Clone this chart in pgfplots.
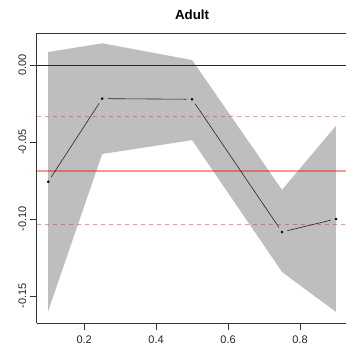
\documentclass[border=0pt]{standalone}
\usepackage{fontspec}
\setmainfont{Liberation Sans}
\usepackage{pgfplots}
\pgfplotsset{compat=1.18}
\begin{document}
\begin{tikzpicture}[x=1pt,y=1pt]
\begin{axis}[
  at={(0,0)}, anchor=south west,
  scale only axis, width=310.8pt, height=290pt,
  xmin=0.068, xmax=0.932, ymin=-0.16758, ymax=0.02098,
  axis x line*=bottom, axis y line*=left,
  axis line style={black!80, line width=0.6pt, -},
  tick align=outside, major tick length=7pt,
  tick style={black!80, line width=0.6pt},
  xtick={0.2,0.4,0.6,0.8}, xticklabels={0.2,0.4,0.6,0.8},
  ytick={-0.15,-0.10,-0.05,0}, yticklabels={-0.15,-0.10,-0.05,0.00},
  ticklabel style={font=\fontsize{11}{13}\selectfont, text=black!85},
  xticklabel style={yshift=-2.5pt},
  yticklabel style={rotate=90, anchor=south},
  clip=false,
  title={\bfseries Adult}, title style={font=\fontsize{13.3}{15}\selectfont\bfseries, yshift=4pt},
]
\addplot[fill={rgb,255:red,190;green,190;blue,190}, draw=none] coordinates {
 (0.1,0.0086) (0.25,0.0143) (0.5,0.0034) (0.75,-0.0810) (0.9,-0.0393)
 (0.9,-0.1604) (0.75,-0.1344) (0.5,-0.0487) (0.25,-0.0577) (0.1,-0.1598)} -- cycle;
\addplot[black!85, line width=0.6pt] coordinates {(0.068,0) (0.932,0)};
\addplot[red, opacity=0.42, line width=1.6pt] coordinates {(0.068,-0.0689) (0.932,-0.0689)};
\addplot[red, opacity=0.42, line width=0.9pt, dash pattern=on 4pt off 4pt] coordinates {(0.068,-0.0334) (0.932,-0.0334)};
\addplot[red, opacity=0.42, line width=0.9pt, dash pattern=on 4pt off 4pt] coordinates {(0.068,-0.1038) (0.932,-0.1038)};
\addplot[black!85, line width=0.6pt, shorten <=5.5pt, shorten >=5.5pt] coordinates {(0.1,-0.0757) (0.25,-0.0217)};
\addplot[black!85, line width=0.6pt, shorten <=5.5pt, shorten >=5.5pt] coordinates {(0.25,-0.0217) (0.5,-0.0221)};
\addplot[black!85, line width=0.6pt, shorten <=5.5pt, shorten >=5.5pt] coordinates {(0.5,-0.0221) (0.75,-0.1084)};
\addplot[black!85, line width=0.6pt, shorten <=5.5pt, shorten >=5.5pt] coordinates {(0.75,-0.1084) (0.9,-0.0999)};
\addplot[only marks, mark=*, mark size=1.1pt, black] coordinates {
 (0.1,-0.0757) (0.25,-0.0217) (0.5,-0.0221) (0.75,-0.1084) (0.9,-0.0999)};
\draw[black!80, line width=0.6pt] (rel axis cs:0,1) -- (rel axis cs:1,1);
\end{axis}
\pgfresetboundingbox
\path[use as bounding box] (-36.7,-34) rectangle (309.3,323);
\end{tikzpicture}
\end{document}
